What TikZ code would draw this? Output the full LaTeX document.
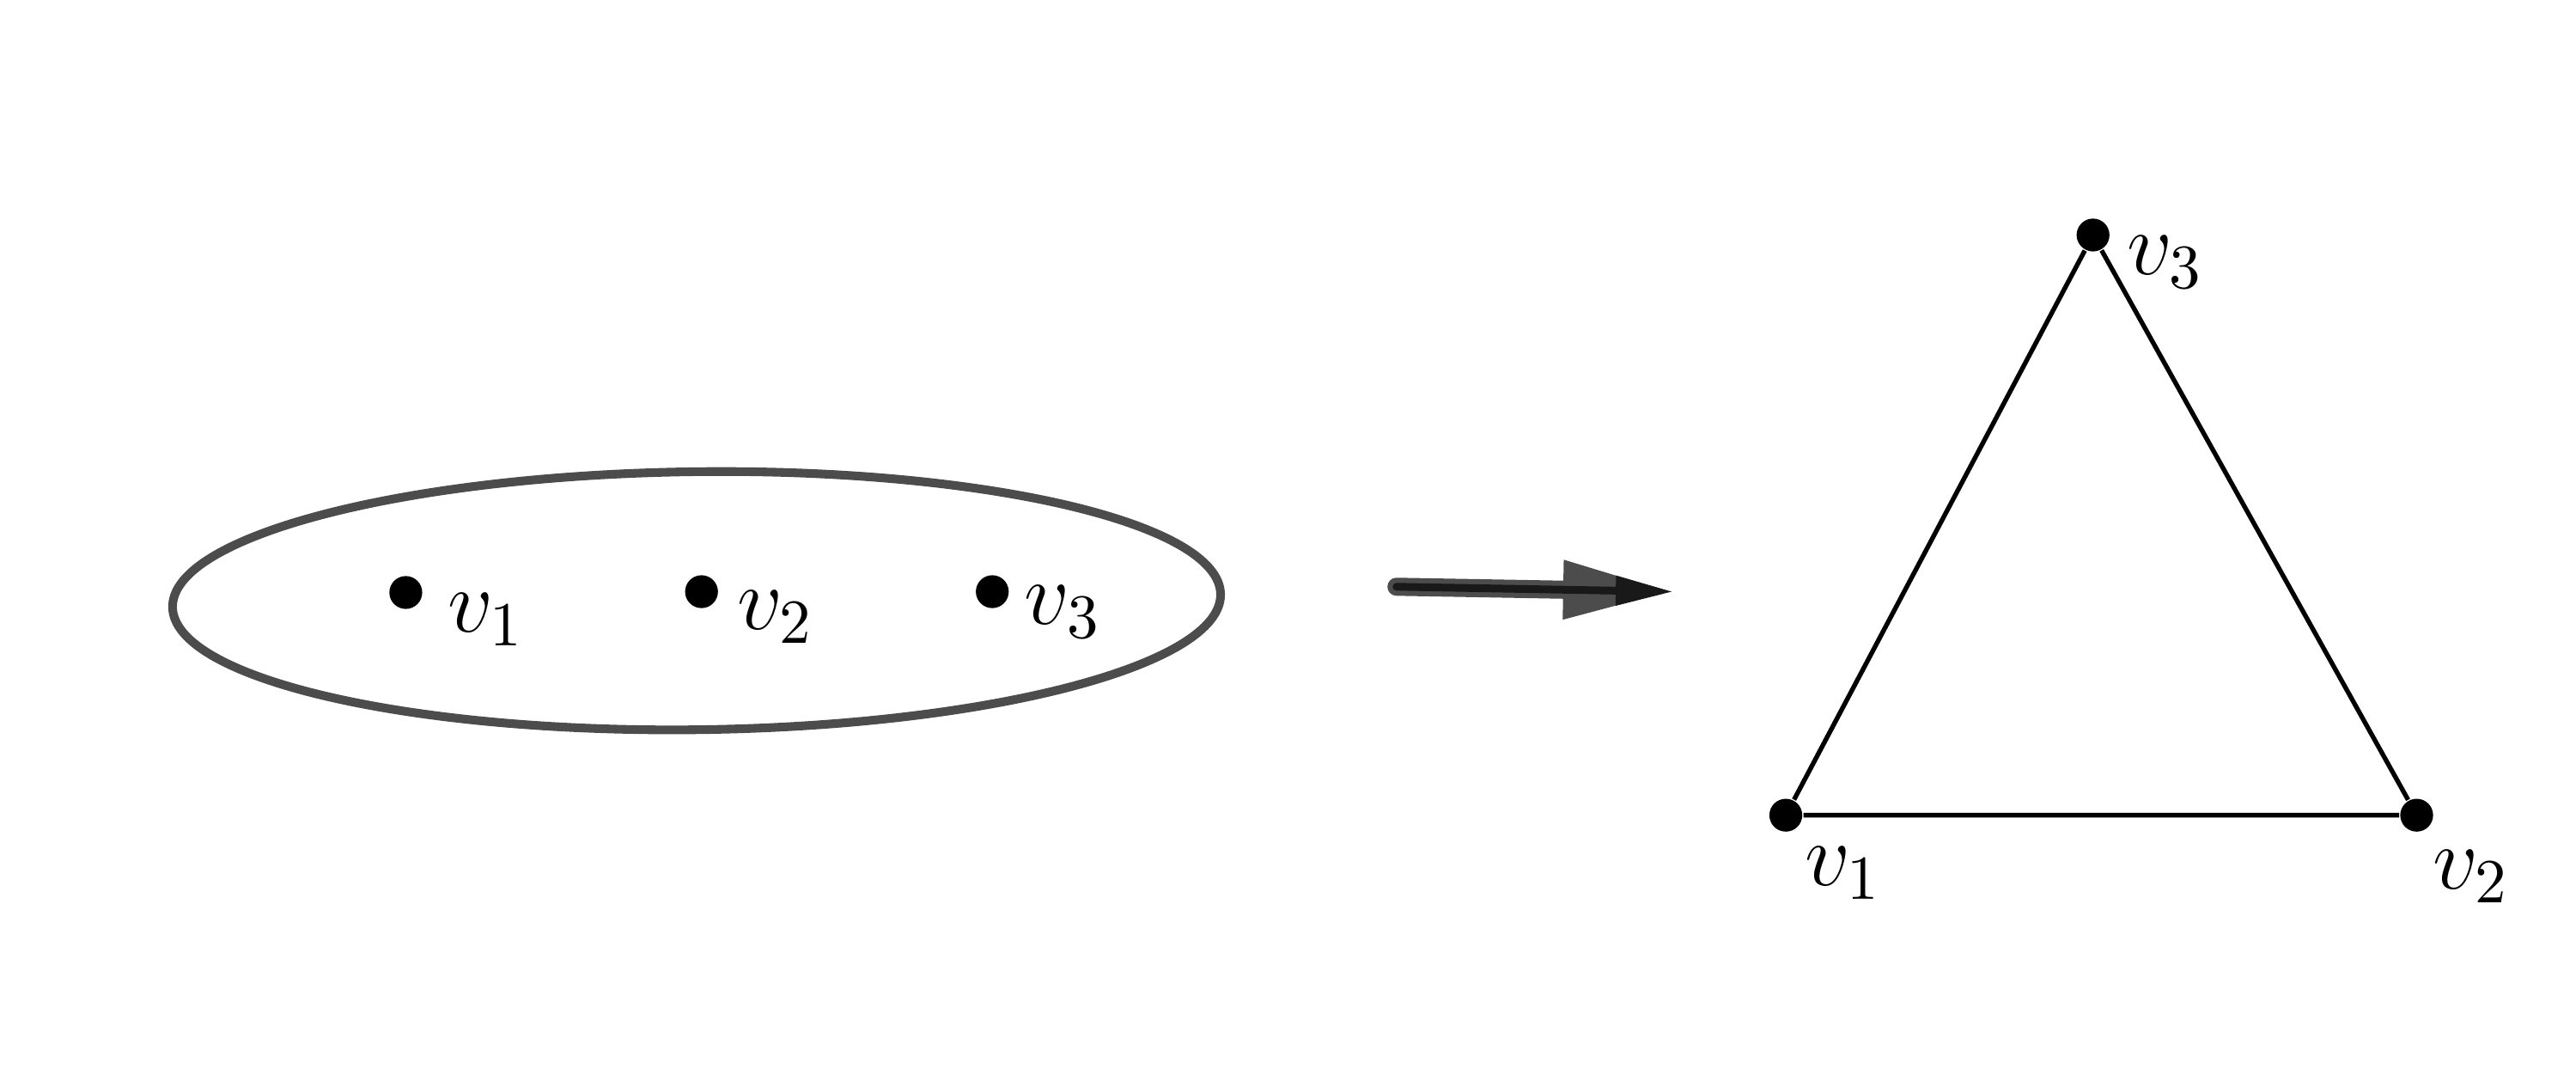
\RequirePackage{fix-cm}
\documentclass[tikz,border=0pt]{standalone}
\usepackage{tikz}
\usetikzlibrary{arrows.meta}

\begin{document}
\begin{tikzpicture}[
  dot/.style={circle,fill=black,inner sep=0pt,minimum size=0.2cm},
  lbl/.style={inner sep=0pt,anchor=base west,font=\fontsize{15.5}{18}\selectfont},
 ]
 \useasboundingbox (0,0) rectangle (15.68,6.5);
 % left: the three vertices in one set
 \draw[line width=1.5pt,black!70] (4.24,2.845) ellipse[x radius=3.19cm,y radius=0.785cm,rotate=0.7];
 \node[dot] (a1) at (2.47,2.895) {};
 \node[dot] (a2) at (4.27,2.90) {};
 \node[dot] (a3) at (6.04,2.90) {};
 \node[lbl] (la1) at ([shift={(0.25,-0.24)}]a1) {$v_1$};
 \node[lbl] (la2) at ([shift={(0.21,-0.23)}]a2) {$v_2$};
 \node[lbl] (la3) at ([shift={(0.19,-0.20)}]a3) {$v_3$};
 % arrow
 \coordinate (s) at (8.50,2.93);
 \coordinate (t) at (10.185,2.90);
 \draw[line width=0.11cm,line cap=round,black!70,-{Triangle[length=0.67cm,width=0.33cm]}] (s)--(t);
 \draw[line width=0.047cm,line cap=round,black!90,-{Triangle[length=0.35cm,width=0.17cm]}] (s)--(t);
 % right: triangle
 \node[dot] (b1) at (10.87,1.54) {};
 \node[dot] (b2) at (14.71,1.54) {};
 \node[dot] (b3) at (12.74,5.07) {};
 \draw[line width=0.8pt] (b1)--(b2)--(b3)--(b1);
 \node[lbl] (lb1) at ([shift={(0.11,-0.43)}]b1) {$v_1$};
 \node[lbl] (lb2) at ([shift={(0.09,-0.45)}]b2) {$v_2$};
 \node[lbl] (lb3) at ([shift={(0.20,-0.24)}]b3) {$v_3$};
\end{tikzpicture}
\end{document}
